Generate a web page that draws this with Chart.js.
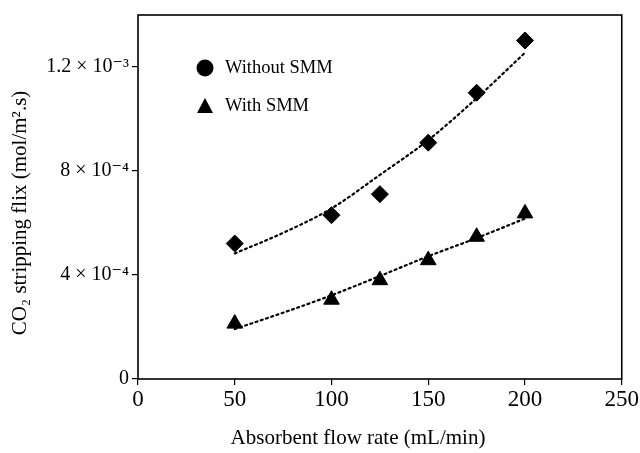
<!DOCTYPE html>
<html lang="en">
<head>
    <meta charset="UTF-8">
    <title>CO2 stripping flux vs absorbent flow rate</title>
    <script src="https://cdn.jsdelivr.net/npm/chart.js"></script>
    <style>
        html, body { margin: 0; padding: 0; background: #fff; }
        #wrap { width: 640px; height: 453px; }
    </style>
</head>
<body>
    <div id="wrap"><canvas id="fluxChart" width="640" height="453"></canvas></div>

    <script>
        // measured points
        const flowRates = [50, 100, 125, 150, 175, 200];
        const withoutSMM = [5.21e-4, 6.30e-4, 7.11e-4, 9.09e-4, 11.01e-4, 13.02e-4];
        const withSMM = [2.13e-4, 3.05e-4, 3.80e-4, 4.57e-4, 5.47e-4, 6.37e-4];

        // dotted trend lines
        const trendX = [50, 75, 100, 125, 150, 175, 200];
        const trendWithout = [4.83e-4, 5.62e-4, 6.56e-4, 7.85e-4, 9.19e-4, 10.80e-4, 12.55e-4];
        const trendWith = [1.92e-4, 2.55e-4, 3.22e-4, 3.96e-4, 4.72e-4, 5.42e-4, 6.17e-4];

        // axes
        const xTicks = [0, 50, 100, 150, 200, 250];
        const yTicks = [0, 4e-4, 8e-4, 1.2e-3];
        const yTickLabels = ['0', '4 × 10⁻⁴', '8 × 10⁻⁴', '1.2 × 10⁻³'];
        const legendLabels = ['Without SMM', 'With SMM'];
        const xTitle = 'Absorbent flow rate (mL/min)';
        const yTitle = 'CO₂ stripping flix (mol/m².s)';

        const serif = '"Liberation Serif", "DejaVu Serif", serif';

        function toPoints(xs, ys) {
            return xs.map((x, i) => ({ x: x, y: ys[i] }));
        }

        // frame round the plot, legend inside it, axis titles
        const framePlugin = {
            id: 'frame',
            afterDraw(chart) {
                const ctx = chart.ctx;
                const a = chart.chartArea;
                ctx.save();
                ctx.strokeStyle = '#000';
                ctx.lineWidth = 1.6;
                ctx.strokeRect(a.left, a.top, a.right - a.left, a.bottom - a.top);

                ctx.fillStyle = '#000';
                ctx.textBaseline = 'middle';

                // legend
                ctx.font = '18.5px ' + serif;
                ctx.textAlign = 'left';
                ctx.beginPath();
                ctx.arc(205, 68, 8.5, 0, Math.PI * 2);
                ctx.fill();
                ctx.fillText(legendLabels[0], 225, 68);

                ctx.beginPath();
                ctx.moveTo(205, 98);
                ctx.lineTo(213, 113);
                ctx.lineTo(197, 113);
                ctx.closePath();
                ctx.fill();
                ctx.fillText(legendLabels[1], 225, 106);

                // axis titles
                ctx.font = '21px ' + serif;
                ctx.textAlign = 'center';
                ctx.fillText(xTitle, 358, 438);

                ctx.translate(20, 213);
                ctx.rotate(-Math.PI / 2);
                ctx.fillText(yTitle, 0, 0);
                ctx.restore();
            }
        };

        const ctx = document.getElementById('fluxChart').getContext('2d');
        const fluxChart = new Chart(ctx, {
            type: 'scatter',
            data: {
                datasets: [
                    {
                        label: legendLabels[0],
                        data: toPoints(flowRates, withoutSMM),
                        pointStyle: 'rectRot',
                        pointRadius: 8.5,
                        backgroundColor: '#000',
                        borderColor: '#000',
                        showLine: false
                    },
                    {
                        label: legendLabels[1],
                        data: toPoints(flowRates, withSMM),
                        pointStyle: 'triangle',
                        pointRadius: 9,
                        backgroundColor: '#000',
                        borderColor: '#000',
                        showLine: false
                    },
                    {
                        label: 'fit without',
                        data: toPoints(trendX, trendWithout),
                        showLine: true,
                        pointRadius: 0,
                        borderColor: '#000',
                        borderWidth: 2.2,
                        borderDash: [2, 3.5],
                        borderCapStyle: 'round',
                        cubicInterpolationMode: 'monotone'
                    },
                    {
                        label: 'fit with',
                        data: toPoints(trendX, trendWith),
                        showLine: true,
                        pointRadius: 0,
                        borderColor: '#000',
                        borderWidth: 2.2,
                        borderDash: [2, 3.5],
                        borderCapStyle: 'round',
                        cubicInterpolationMode: 'monotone'
                    }
                ]
            },
            options: {
                responsive: false,
                animation: false,
                layout: { padding: { left: 0, right: 17, top: 13, bottom: 0 } },
                plugins: {
                    legend: { display: false },
                    tooltip: { enabled: false }
                },
                scales: {
                    x: {
                        type: 'linear',
                        min: 0,
                        max: 250,
                        afterBuildTicks: s => { s.ticks = xTicks.map(v => ({ value: v })); },
                        afterFit: s => { s.height = 74; },
                        grid: {
                            drawOnChartArea: false,
                            drawTicks: true,
                            tickLength: 6,
                            color: '#000',
                            lineWidth: 1.2
                        },
                        border: { display: false },
                        ticks: {
                            color: '#000',
                            padding: 1,
                            maxRotation: 0,
                            font: { family: serif, size: 23 }
                        }
                    },
                    y: {
                        type: 'linear',
                        min: 0,
                        max: 1.4e-3,
                        afterBuildTicks: s => { s.ticks = yTicks.map(v => ({ value: v })); },
                        afterFit: s => { s.width = 138; },
                        grid: {
                            drawOnChartArea: false,
                            drawTicks: true,
                            tickLength: 6,
                            color: '#000',
                            lineWidth: 1.2
                        },
                        border: { display: false },
                        ticks: {
                            color: '#000',
                            padding: 3,
                            font: { family: serif, size: 20 },
                            callback: v => {
                                const i = yTicks.findIndex(t => Math.abs(t - v) < 1e-9);
                                return i >= 0 ? yTickLabels[i] : '';
                            }
                        }
                    }
                }
            },
            plugins: [framePlugin]
        });
    </script>
</body>
</html>
